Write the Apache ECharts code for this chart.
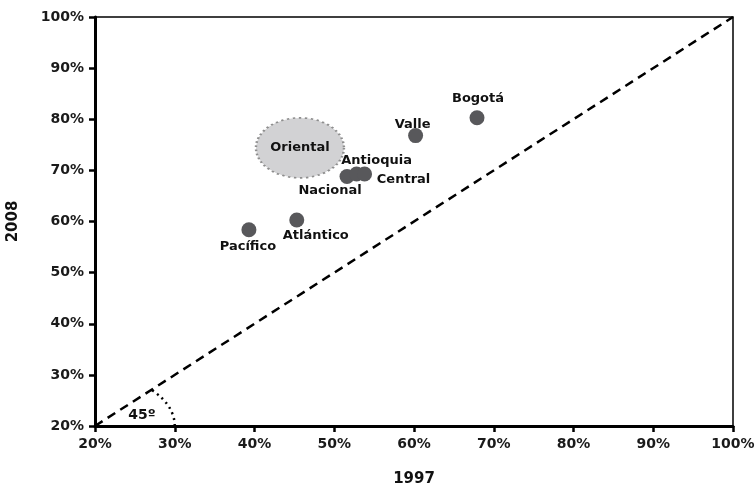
<!DOCTYPE html>
<html><head><meta charset="utf-8">
<script src="https://cdn.jsdelivr.net/npm/echarts@6/dist/echarts.min.js"></script>
<style>html,body{margin:0;padding:0;background:#fff}#c{width:755px;height:488px}</style>
</head><body><div id="c"></div>
<script>
const regions = ['Pacífico','Atlántico','Nacional','Antioquia','Central','Valle','Bogotá'];
const x1997 = [39.3, 45.3, 51.6, 52.8, 53.8, 60.2, 67.9];
const y2008 = [58.4, 60.3, 68.8, 69.3, 69.3, 76.8, 80.3];
const labelOffsets = [[-1,17],[19,16],[-17,14],[20,-13],[39,6],[-3,-11],[1,-19]];
const orientalPoint = [45.7, 74.4];
const angleLabelPoint = [25.9, 22];

const F = '"DejaVu Sans", sans-serif';
const pts = regions.map((r,i)=>({
  name:r, value:[x1997[i], y2008[i]],
  label:{show:true, formatter:r, position:'inside', offset:labelOffsets[i],
    fontFamily:F, fontWeight:'bold', fontSize:13, color:'#111'}
}));
const arc = [];
for (let a=0; a<=45; a+=1.5) { const t=a*Math.PI/180; arc.push([20+10*Math.cos(t), 20+10*Math.sin(t)]); }

const axisLabel = {formatter:'{value}%', fontFamily:F, fontWeight:'bold', fontSize:14, color:'#1a1a1a', margin:11};
const chart = echarts.init(document.getElementById('c'));
chart.setOption({
  animation:false,
  grid:{left:95, right:22, top:17, bottom:62, show:true, borderColor:'#000', borderWidth:1.5,
    containLabel:false, outerBoundsMode:'none'},
  xAxis:{type:'value', min:20, max:100, interval:10,
    name:'1997', nameLocation:'middle', nameGap:46,
    nameTextStyle:{fontFamily:F, fontWeight:'bold', fontSize:15, color:'#111'},
    axisLine:{show:true, lineStyle:{color:'#000', width:3}},
    axisTick:{show:true, length:6, lineStyle:{color:'#000', width:2.5}},
    axisLabel:axisLabel, splitLine:{show:false}},
  yAxis:{type:'value', min:20, max:100, interval:10,
    name:'2008', nameLocation:'middle', nameGap:74, nameRotate:90,
    nameTextStyle:{fontFamily:F, fontWeight:'bold', fontSize:15, color:'#111'},
    axisLine:{show:true, lineStyle:{color:'#000', width:3}},
    axisTick:{show:true, length:6, lineStyle:{color:'#000', width:2.5}},
    axisLabel:axisLabel, splitLine:{show:false}},
  series:[
    {type:'line', data:[[20,20],[100,100]], symbol:'none', silent:true,
      lineStyle:{color:'#000', width:2.5, type:[9,6]}, z:1},
    {type:'line', data:arc, symbol:'none', silent:true, smooth:true,
      lineStyle:{color:'#000', width:2.5, type:[2,4]}, z:1},
    {type:'scatter', data:[{value:angleLabelPoint, label:{show:true, formatter:'45º', position:'inside', fontFamily:F, fontWeight:'bold', fontSize:14, color:'#111'}}],
      symbolSize:2, itemStyle:{color:'rgba(0,0,0,0)', opacity:1}, silent:true, z:5},
    {type:'scatter', data:[{value:orientalPoint, name:'Oriental'}], symbol:'circle', symbolSize:[88,60],
      itemStyle:{color:'#d2d2d4', opacity:1, borderColor:'#8e8e8e', borderWidth:2, borderType:[2,3]},
      label:{show:true, position:'inside', formatter:'Oriental', fontFamily:F, fontWeight:'bold', fontSize:13, color:'#111'}, z:3},
    {type:'scatter', data:pts, symbolSize:15, itemStyle:{color:'#58585b', opacity:1}, z:4}
  ]
});
</script></body></html>
